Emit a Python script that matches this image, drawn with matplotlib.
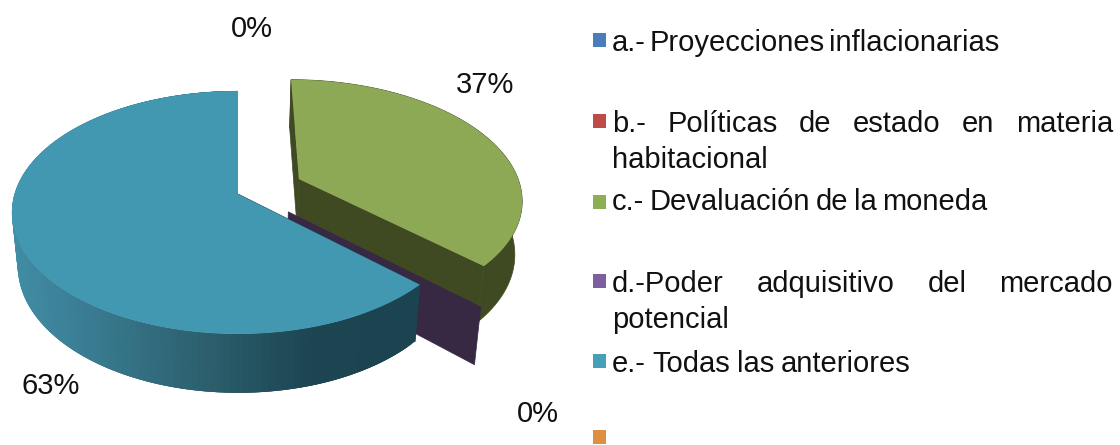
import matplotlib
matplotlib.use('Agg')
import matplotlib.pyplot as plt
import numpy as np
from matplotlib import colors

categories = ['a.- Proyecciones inflacionarias', 'b.- Políticas de estado en materia habitacional',
	'c.- Devaluación de la moneda', 'd.-Poder adquisitivo del mercado potencial',
	'e.- Todas las anteriores', '']
values = [0, 0, 37, 0, 63, 0]
pct_labels = ['0%', '37%', '0%', '63%']

top_cols = ['#4A7EBB', '#BE4B48', '#8EA955', '#7D5FA0', '#4298B0', '#DE8F42']
key_cols = ['#4A7EBB', '#BE4B48', '#8EAE55', '#7D5FA0', '#46A0BA', '#DE8F42']
side_cols = ['#2C4D75', '#772C2A', '#404A22', '#372844', '#1B4350', '#984807']

plt.rcParams['font.family'] = ['Liberation Sans', 'DejaVu Sans']

# projection of the tilted pie, in pixels
cx, cy = 238.0, 194.0
A, B, k = 223.5, 118.7, 0.152
shrink, D = 0.974, 53.0

def project(u, v, low=False):
	den = 1 - k * v
	if low:
		return cx + shrink * A * u / den, cy + shrink * B * v / den + D / den
	return cx + A * u / den, cy + B * v / den

def rim(t1, t2, off, low=False, n=200):
	t = np.radians(np.linspace(t1, t2, n))
	return project(off[0] + np.sin(t), off[1] - np.cos(t), low)

def side_colour(x):
	stops = [11, 100, 238, 330, 418]
	reds = np.array([colors.to_rgb(c) for c in ['#418EA6', '#397C91', '#2A5B69', '#1C4451', '#1B4350']])
	return [np.interp(x, stops, reds[:, i]) for i in range(3)]

fig = plt.figure(figsize=(11.2, 4.45), dpi=100)
ax = fig.add_axes([0, 0, 1, 1])
ax.set_xlim(0, 1120)
ax.set_ylim(445, 0)
ax.axis('off')

cum = np.cumsum(values) / np.sum(values) * 360.0
starts = np.concatenate([[0], cum[:-1]])

# c slice, pulled out
t1, t2 = starts[2], cum[2]
off = (0.278, -0.1285)
xa, ya = project(off[0], off[1])
xb, yb = project(off[0], off[1], True)
xt, yt = rim(t1, t2, off)
xl, yl = rim(t1, t2, off, True)
ax.fill(np.r_[xa, xt[0], xl[0], xb], np.r_[ya, yt[0], yl[0], yb], color=side_cols[2], lw=0.5)
ax.fill(np.r_[xt, xl[::-1]], np.r_[yt, yl[::-1]], color=side_cols[2], lw=0.5)
ax.fill(np.r_[xa, xt[-1], xl[-1], xb], np.r_[ya, yt[-1], yl[-1], yb], color=side_cols[2], lw=0.5)
ax.fill(np.r_[xa, xt], np.r_[ya, yt], color=top_cols[2], lw=0)

# d slice has no size, only its wall shows
t = cum[3]
off = (0.22, 0.147)
xa, ya = project(off[0], off[1])
xb, yb = project(off[0], off[1], True)
xt, yt = rim(t, t, off, n=1)
xl, yl = rim(t, t, off, True, n=1)
ax.fill(np.r_[xa, xt, xl, xb], np.r_[ya, yt, yl, yb], color=side_cols[3], lw=0.5)

# e slice, quads overlap so the gradient has no seams
t1, t2 = starts[4], cum[4]
off = (0.0, 0.0)
xa, ya = project(0, 0)
xb, yb = project(0, 0, True)
xt, yt = rim(t1, t2, off, n=160)
xl, yl = rim(t1, t2, off, True, n=160)
for i in range(len(xt) - 1):
	j = min(i + 3, len(xt) - 1)
	c = side_colour(xt[i])
	ax.fill([xt[i], xt[j], xl[j], xl[i]], [yt[i], yt[j], yl[j], yl[i]], color=c, lw=0, zorder=2 + (len(xt) - i) * 1e-4)
ax.fill(np.r_[xa, xt[0], xl[0], xb], np.r_[ya, yt[0], yl[0], yb], color=side_cols[4], lw=0.5, zorder=2.1)
ax.fill(np.r_[xa, xt], np.r_[ya, yt], color=top_cols[4], lw=0, zorder=2.2)

fs = 21
for lab, x, y in zip(pct_labels, [252, 485, 538, 51], [29, 85, 414, 386]):
	ax.text(x, y, lab, fontsize=fs, ha='center', va='center', color='#111111', zorder=3)

# legend keys
key_y = [40, 121, 202, 281, 361, 437]
for col, y in zip(key_cols, key_y):
	ax.fill([593, 606, 606, 593], [y - 7, y - 7, y + 7, y + 7], color=col, lw=0)

# legend text, word by word so each line ends where it should
lines = [(categories[0], 40, 999), (categories[1][:categories[1].rfind(' ')], 121, 1113),
	(categories[1].split()[-1], 157, None), (categories[2], 199, 987),
	(categories[3][:categories[3].rfind(' ')], 281, 1113), (categories[3].split()[-1], 317, None),
	(categories[4], 361, 910)]
fig.canvas.draw()
rend = fig.canvas.get_renderer()
for txt, y, right in lines:
	words = txt.split()
	items = [ax.text(612, y, w, fontsize=fs, ha='left', va='center_baseline', color='#111111') for w in words]
	if right is None:
		continue
	widths = [i.get_window_extent(rend).width for i in items]
	gap = (right - 612 - sum(widths)) / (len(words) - 1)
	x = 612.0
	for item, w in zip(items, widths):
		item.set_x(x)
		x += w + gap

plt.savefig('out.png', dpi=100)
